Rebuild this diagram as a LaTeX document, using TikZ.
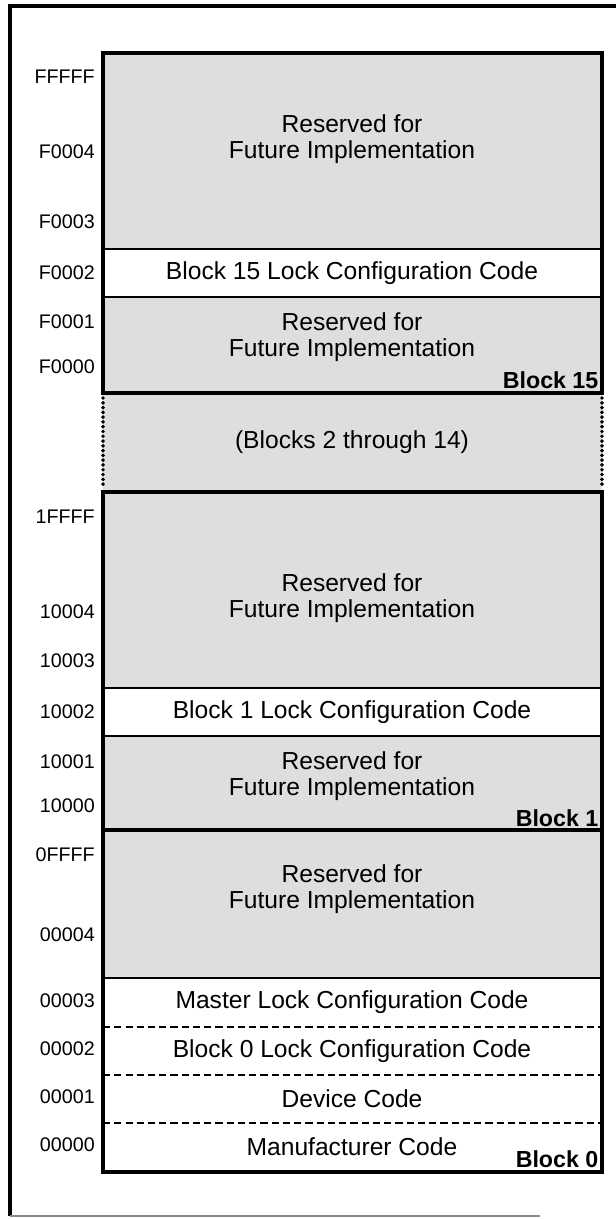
\documentclass[tikz,border=0pt]{standalone}
\usepackage{fontspec}
\setmainfont{Liberation Sans}
\usepackage{xcolor}
\usetikzlibrary{positioning}
\definecolor{mapgray} {HTML}{DEDEDE}
\definecolor{framegray}{HTML}{8A8A8A}

\begin{document}
\begin{tikzpicture}[
  x=0.025cm, y=-0.025cm,
  every node/.style={font=\fontsize{17.5}{19}\selectfont},
  txt/.style={align=center, inner sep=0pt},
  addr/.style={anchor=east, inner sep=0pt, font=\fontsize{14}{16}\selectfont},
  tag/.style={anchor=south east, inner sep=1pt, font=\fontsize{16.5}{18}\selectfont\bfseries},
  blk/.style={line width=3pt},
  row/.style={line width=1.2pt},
  cut/.style={line width=1.1pt, dash pattern=on 5pt off 3pt},
  dotline/.style={line width=2.8pt, line cap=round, dash pattern=on 0pt off 3.4pt},
  frame/.style={line width=2.6pt},
]
\useasboundingbox (0,0) rectangle (616,1219);

% -- Outer frame ---------------------------------
\draw[frame] (616,6) -- (10,6) -- (10,1216);
\draw[line width=1.2pt, framegray] (10,1216) -- (540,1216);

% -- Shaded regions ------------------------------
\fill[mapgray] (103,53)  rectangle (602,249);
\fill[mapgray] (103,297) rectangle (602,393);
\fill[mapgray] (103,393) rectangle (602,492);
\fill[mapgray] (103,492) rectangle (602,688);
\fill[mapgray] (103,736) rectangle (602,830);
\fill[mapgray] (103,830) rectangle (602,978);

% -- Block 15 ------------------------------------
\draw[row] (103,249) -- (602,249);
\draw[row] (103,297) -- (602,297);
\draw[blk] (103,53) rectangle (602,393);

% -- Blocks 2 through 14 -------------------------
\draw[dotline] (103,398) -- (103,488);
\draw[dotline] (602,398) -- (602,488);

% -- Block 1 -------------------------------------
\draw[row] (103,688) -- (602,688);
\draw[row] (103,736) -- (602,736);
\draw[blk] (103,492) rectangle (602,830);

% -- Block 0 -------------------------------------
\draw[row] (103,978)  -- (602,978);
\draw[cut] (103,1027) -- (602,1027);
\draw[cut] (103,1075) -- (602,1075);
\draw[cut] (103,1123) -- (602,1123);
\draw[blk] (103,830) rectangle (602,1172);

% -- Texts: Block 15 -----------------------------
\node[txt] (rsv15a) at (352,139) {Reserved for\\Future Implementation};
\node[txt] (lock15) at (352,273) {Block 15 Lock Configuration Code};
\node[txt] (rsv15b) at (352,337) {Reserved for\\Future Implementation};
\node[tag] (tag15)  at (600,390) {Block 15};

\node[txt] (middle) at (352,442) {(Blocks 2 through 14)};

% -- Texts: Block 1 ------------------------------
\node[txt] (rsv1a) at (352,598) {Reserved for\\Future Implementation};
\node[txt] (lock1) at (352,712) {Block 1 Lock Configuration Code};
\node[txt] (rsv1b) at (352,776) {Reserved for\\Future Implementation};
\node[tag] (tag1)  at (600,828) {Block 1};

% -- Texts: Block 0 ------------------------------
\node[txt] (rsv0)   at (352,889)  {Reserved for\\Future Implementation};
\node[txt] (master) at (352,1002) {Master Lock Configuration Code};
\node[txt] (lock0)  at (352,1051) {Block 0 Lock Configuration Code};
\node[txt] (device) at (352,1099) {Device Code};
\node[txt] (manuf)  at (352,1147) {Manufacturer Code};
\node[tag] (tag0)   at (600,1169) {Block 0};

% -- Addresses -----------------------------------
\node[addr] (aFFFFF) at (95,77)   {FFFFF};
\node[addr] (aF0004) at (95,152)  {F0004};
\node[addr] (aF0003) at (95,222)  {F0003};
\node[addr] (aF0002) at (95,273)  {F0002};
\node[addr] (aF0001) at (95,322)  {F0001};
\node[addr] (aF0000) at (95,367)  {F0000};
\node[addr] (a1FFFF) at (95,517)  {1FFFF};
\node[addr] (a10004) at (95,612)  {10004};
\node[addr] (a10003) at (95,661)  {10003};
\node[addr] (a10002) at (95,712)  {10002};
\node[addr] (a10001) at (95,762)  {10001};
\node[addr] (a10000) at (95,806)  {10000};
\node[addr] (a0FFFF) at (95,855)  {0FFFF};
\node[addr] (a00004) at (95,935)  {00004};
\node[addr] (a00003) at (95,1001) {00003};
\node[addr] (a00002) at (95,1049) {00002};
\node[addr] (a00001) at (95,1097) {00001};
\node[addr] (a00000) at (95,1145) {00000};

\end{tikzpicture}
\end{document}
